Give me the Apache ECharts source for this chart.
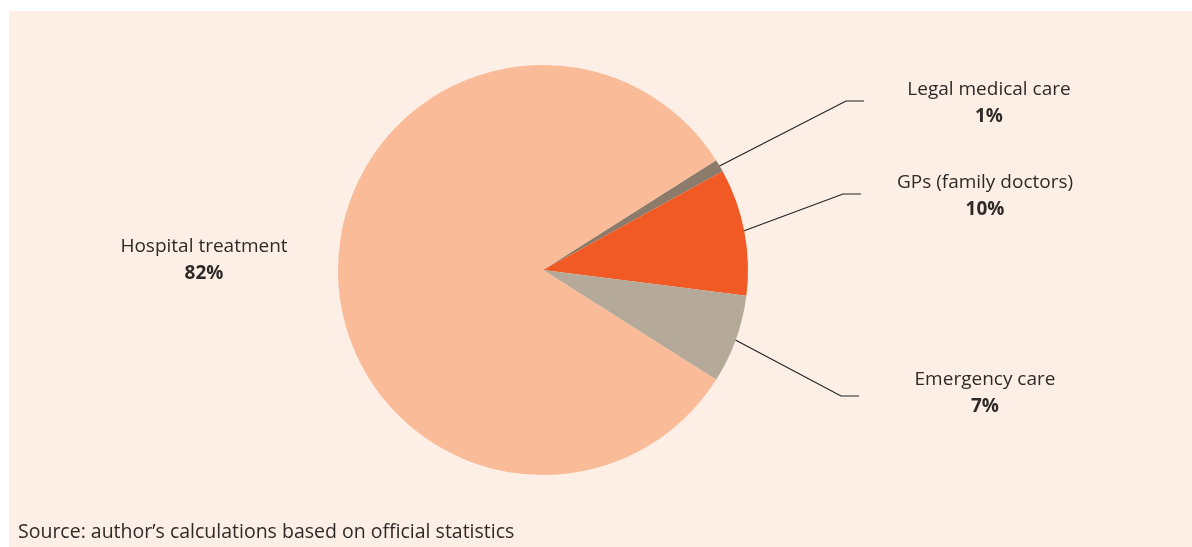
<!DOCTYPE html>
<html><head><meta charset="utf-8">
<script src="https://cdn.jsdelivr.net/npm/echarts@6/dist/echarts.min.js"></script>
<style>
html,body{margin:0;padding:0;background:#fff;width:1192px;height:547px;overflow:hidden;}
#bg{position:absolute;left:9px;top:11px;width:1183px;height:536px;background:#fdeee6;}
#c{position:absolute;left:0;top:0;width:1192px;height:547px;}
</style>
</head><body><div id="bg"></div><div id="c"></div>
<script>
// Data
const categories = ['Legal medical care', 'GPs (family doctors)', 'Emergency care', 'Hospital treatment'];
const shares = [1, 10, 7, 82];
const sourceNote = 'Source: author\u2019s calculations based on official statistics';

// Styling / layout (not data)
const colors = ['#8c7b6b', '#f15a24', '#b5aa9a', '#f9bb98'];
const CX = 543, CY = 270, R = 205;
const labelPlace = [
  { x: 989, y: 103, elbow: [846, 101], end: [864, 101] },
  { x: 985, y: 196, elbow: [843, 194], end: [861, 194] },
  { x: 985, y: 393, elbow: [841, 396], end: [859, 396] },
  { x: 204, y: 260 }
];
const FONT = 'Open Sans';
const textColor = '#2e2a27';

const chart = echarts.init(document.getElementById('c'), null, { renderer: 'canvas' });
chart.setOption({
  backgroundColor: 'transparent',
  animation: false,
  title: {
    text: sourceNote,
    left: 18,
    top: 522,
    padding: 0,
    textStyle: { fontFamily: FONT, fontSize: 19.5, fontWeight: 'normal', color: textColor }
  },
  series: [{
    type: 'pie',
    center: [CX, CY],
    radius: R,
    startAngle: 32.4,
    clockwise: true,
    avoidLabelOverlap: false,
    data: categories.map((name, i) => ({
      name, value: shares[i],
      itemStyle: { color: colors[i] },
      labelLine: { show: i !== 3 }
    })),
    itemStyle: { borderWidth: 0 },
    label: {
      show: true,
      position: 'outside',
      formatter: p => '{n|' + p.name + '}\n{p|' + p.value + '%}',
      rich: {
        n: { fontFamily: FONT, fontSize: 19, color: textColor, lineHeight: 27, align: 'center' },
        p: { fontFamily: FONT, fontSize: 19, fontWeight: 'bold', color: textColor, lineHeight: 27, align: 'center' }
      }
    },
    labelLine: { show: true, lineStyle: { color: '#222', width: 1.2 } },
    labelLayout: function (params) {
      const pl = labelPlace[params.dataIndex];
      const res = { x: pl.x, y: pl.y, align: 'center', verticalAlign: 'middle' };
      if (pl.elbow && params.labelLinePoints) {
        const s = params.labelLinePoints[0];
        const dx = s[0] - CX, dy = s[1] - CY;
        const d = Math.sqrt(dx * dx + dy * dy);
        const k = (d - 5) / d;
        res.labelLinePoints = [[CX + dx * k, CY + dy * k], pl.elbow, pl.end];
      }
      return res;
    }
  }]
});
</script>
</body></html>
